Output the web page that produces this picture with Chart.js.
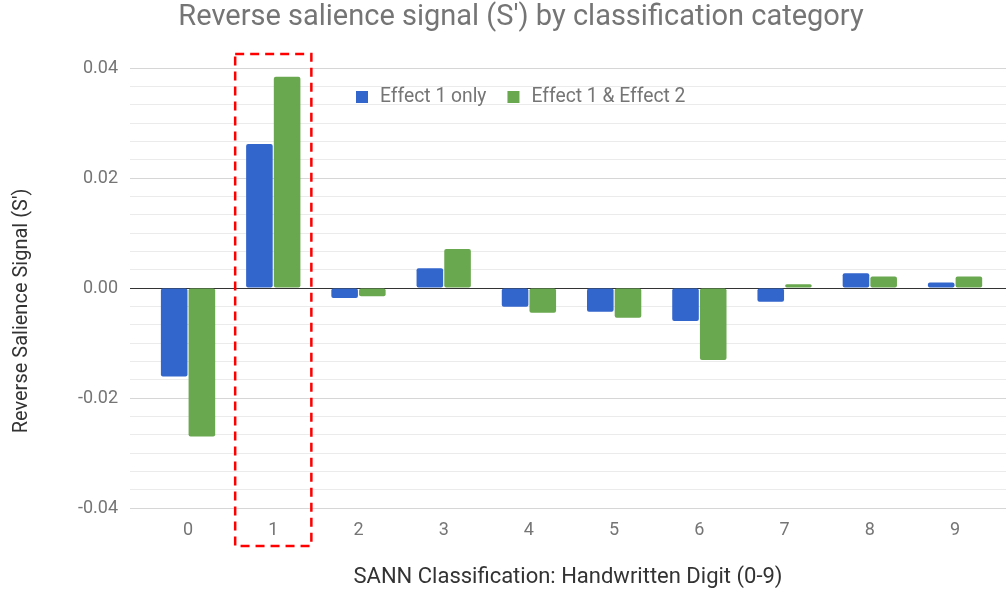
<!DOCTYPE html>
<html>
<head>
<meta charset="utf-8">
<script src="https://cdn.jsdelivr.net/npm/chart.js@4/dist/chart.umd.min.js"></script>
<style>
  html, body { margin: 0; padding: 0; background: #ffffff; }
  #wrap { width: 1006px; height: 592px; position: relative; }
</style>
</head>
<body>
<div id="wrap"><canvas id="c" width="1006" height="592"></canvas></div>
<script>
// ---- data ----
const categories = ['0', '1', '2', '3', '4', '5', '6', '7', '8', '9'];
const effect1Only = [-0.0161, 0.0262, -0.0018, 0.0036, -0.0034, -0.0043, -0.0060, -0.0025, 0.0027, 0.0010];
const effect1And2 = [-0.0270, 0.0384, -0.0015, 0.0071, -0.0045, -0.0054, -0.0131, 0.0007, 0.0021, 0.0021];
const seriesNames = ['Effect 1 only', 'Effect 1 & Effect 2'];
const yMajorTicks = [-0.04, -0.02, 0.00, 0.02, 0.04];
const highlightCategory = '1';
const titleText = "Reverse salience signal (S') by classification category";
const xTitleText = 'SANN Classification: Handwritten Digit (0-9)';
const yTitleText = "Reverse Salience Signal (S')";

const COLORS = ['#3366cc', '#6aa84f'];
const GRAY = '#757575';
const FONT = 'Roboto';

const yMin = yMajorTicks[0], yMax = yMajorTicks[yMajorTicks.length - 1];
const minorPerMajor = 6;

function toPoints(arr) { return arr.map((v, i) => ({ x: i, y: v })); }

const overlayPlugin = {
  id: 'overlay',
  afterDraw(chart) {
    const ctx = chart.ctx;
    const xs = chart.scales.x, area = chart.chartArea;
    ctx.save();
    // y axis title
    ctx.font = '20px ' + FONT;
    ctx.fillStyle = '#333333';
    ctx.textAlign = 'center';
    ctx.textBaseline = 'middle';
    ctx.translate(22, 311);
    ctx.rotate(-Math.PI / 2);
    ctx.fillText(yTitleText, 0, 0);
    ctx.restore();

    // legend inside chart area
    ctx.save();
    ctx.font = '19.3px ' + FONT;
    ctx.textBaseline = 'middle';
    ctx.textAlign = 'left';
    let x = 356;
    const cy = 97;
    chart.data.datasets.forEach((ds) => {
      ctx.fillStyle = ds.backgroundColor;
      ctx.fillRect(x, cy - 6, 12, 12);
      x += 24;
      ctx.fillStyle = GRAY;
      ctx.fillText(ds.label, x, cy);
      x += ctx.measureText(ds.label).width + 21;
    });
    ctx.restore();

    // dashed highlight box
    const hi = categories.indexOf(highlightCategory);
    const x0 = xs.getPixelForValue(hi - 0.447);
    const x1 = xs.getPixelForValue(hi + 0.447);
    const y0 = area.top - 14;
    const y1 = area.bottom + 38;
    ctx.save();
    ctx.strokeStyle = '#ff0000';
    ctx.lineWidth = 2.5;
    ctx.setLineDash([9, 6]);
    ctx.strokeRect(x0, y0, x1 - x0, y1 - y0);
    ctx.restore();
  }
};

Chart.defaults.font.family = FONT;

new Chart(document.getElementById('c'), {
  type: 'bar',
  data: {
    datasets: [
      { label: seriesNames[0], data: toPoints(effect1Only), backgroundColor: COLORS[0] },
      { label: seriesNames[1], data: toPoints(effect1And2), backgroundColor: COLORS[1] }
    ]
  },
  options: {
    responsive: false,
    animation: false,
    devicePixelRatio: 1,
    layout: { padding: { left: 36, right: 0, top: 0, bottom: 0 } },
    datasets: {
      bar: {
        categoryPercentage: 0.65,
        barPercentage: 0.96,
        borderRadius: 2,
        borderSkipped: false
      }
    },
    plugins: {
      legend: { display: false },
      tooltip: { enabled: false },
      title: {
        display: true,
        text: titleText,
        color: GRAY,
        font: { size: 29, weight: 'normal', family: FONT },
        padding: { top: 0, bottom: 33.2 }
      }
    },
    scales: {
      x: {
        type: 'linear',
        offset: false,
        min: -0.681,
        max: 9.598,
        grid: { display: false, drawTicks: false },
        border: { display: false },
        afterBuildTicks(axis) {
          axis.ticks = categories.map((c, i) => ({ value: i }));
        },
        afterFit(axis) { axis.height = 84; },
        ticks: {
          color: GRAY,
          font: { size: 18 },
          padding: 12,
          maxRotation: 0,
          autoSkip: false,
          callback(value) { return categories[value]; }
        },
        title: {
          display: true,
          text: xTitleText,
          color: '#333333',
          font: { size: 22 },
          padding: { top: 0, bottom: 1 }
        }
      },
      y: {
        type: 'linear',
        min: yMin,
        max: yMax,
        afterBuildTicks(axis) {
          const n = (yMajorTicks.length - 1) * minorPerMajor;
          const t = [];
          for (let i = 0; i <= n; i++) t.push({ value: yMin + (yMax - yMin) * i / n });
          axis.ticks = t;
        },
        afterFit(axis) { axis.width = 94; },
        border: { display: false },
        grid: {
          drawTicks: false,
          lineWidth: 1,
          color(ctx) {
            const v = ctx.tick ? ctx.tick.value : 0;
            if (Math.abs(v) < 1e-9) return '#333333';
            if (ctx.index % minorPerMajor === 0) return '#d6d6d6';
            return '#ebebeb';
          }
        },
        ticks: {
          color: GRAY,
          font: { size: 18 },
          padding: 12,
          autoSkip: false,
          callback(value, index) {
            if (index % minorPerMajor !== 0) return '';
            const m = yMajorTicks[index / minorPerMajor];
            return m.toFixed(2);
          }
        }
      }
    }
  },
  plugins: [overlayPlugin]
});
</script>
</body>
</html>
